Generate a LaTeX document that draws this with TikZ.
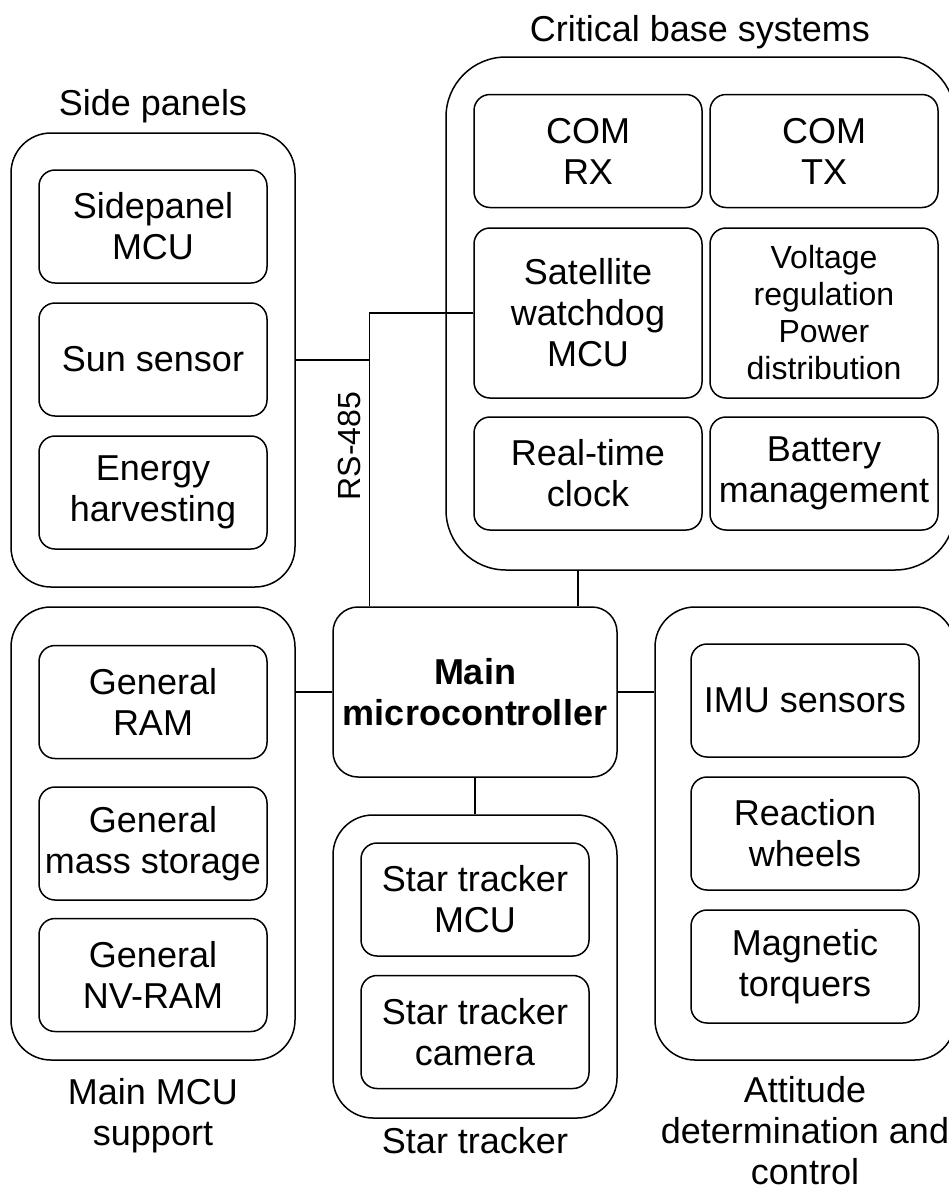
\documentclass[tikz,border=0pt]{standalone}
\usepackage{fontspec}
\setmainfont{Liberation Sans}
\newcommand{\unitw}{228}
\newcommand{\unith}{113}
\begin{document}
\begin{tikzpicture}[x=1pt,y=-1pt,line width=1.5pt,
    every node/.style={font=\fontsize{36}{41}\selectfont,align=center,inner sep=0pt},
    group/.style={draw,rounded corners=40pt},
    unit/.style={draw,rounded corners=16pt,minimum width=\unitw,minimum height=\unith},
    small/.style={font=\fontsize{32}{37}\selectfont}]
    \useasboundingbox (0,0) rectangle (949,1192);
    % outer groups
    \node[group,rounded corners=60pt,minimum width=509,minimum height=513] (crit) at (700.5,313.5) {};
    \node[group,minimum width=284,minimum height=454] (side) at (153,360) {};
    \node[group,minimum width=284,minimum height=453] (support) at (153,833.5) {};
    \node[group,rounded corners=25pt,minimum width=284,minimum height=170] (mcu) at (475,692) {\bfseries Main\\\bfseries microcontroller};
    \node[group,minimum width=284,minimum height=303] (star) at (475,966.5) {};
    \node[group,minimum width=300,minimum height=453] (adc) at (805,833.5) {};
    % critical base systems
    \node[unit] (comrx) at (588,151) {COM\\RX};
    \node[unit] (comtx) at (824,151) {COM\\TX};
    \node[unit,minimum height=170] (wdog) at (588,313) {Satellite\\watchdog\\MCU};
    \node[unit,minimum height=170,small] (power) at (824,313) {Voltage\\regulation\\Power\\distribution};
    \node[unit] (rtc) at (588,473.5) {Real-time\\clock};
    \node[unit] (battery) at (824,473.5) {Battery\\management};
    % side panels
    \node[unit] (spmcu) at (153,226.5) {Sidepanel\\MCU};
    \node[unit] (sun) at (153,359.5) {Sun sensor};
    \node[unit] (energy) at (153,492.5) {Energy\\harvesting};
    % main MCU support
    \node[unit] (ram) at (153,702) {General\\RAM};
    \node[unit] (storage) at (153,843.5) {General\\mass storage};
    \node[unit] (nvram) at (153,975) {General\\NV-RAM};
    % star tracker
    \node[unit] (stmcu) at (475,899.5) {Star tracker\\MCU};
    \node[unit] (stcam) at (475,1032) {Star tracker\\camera};
    % attitude determination and control
    \node[unit] (imu) at (805,700.5) {IMU sensors};
    \node[unit] (wheels) at (805,833.5) {Reaction\\wheels};
    \node[unit] (torquers) at (805,966.5) {Magnetic\\torquers};
    % group captions
    \node (critlbl) at (700,32) {Critical base systems};
    \node (sidelbl) at (153,106) {Side panels};
    \node (supportlbl) at (153,1116) {Main MCU\\support};
    \node (starlbl) at (475,1141) {Star tracker};
    \node (adclbl) at (805,1131) {Attitude\\determination and\\control};
    % links
    \draw (mcu.west) -- (mcu.west -| support.east);
    \draw (mcu.east) -- (mcu.east -| adc.west);
    \draw (mcu.south) -- (star.north);
    \draw ([xshift=103pt]mcu.north) -- ([xshift=103pt]mcu.north |- crit.south);
    % RS-485 bus
    \coordinate (bus) at ([xshift=37pt]mcu.north west);
    \draw (wdog.west) -| (bus);
    \draw (side.east) -- (side.east -| bus);
    \node[small,rotate=90] (rs485) at (349,446) {RS-485};
\end{tikzpicture}
\end{document}
